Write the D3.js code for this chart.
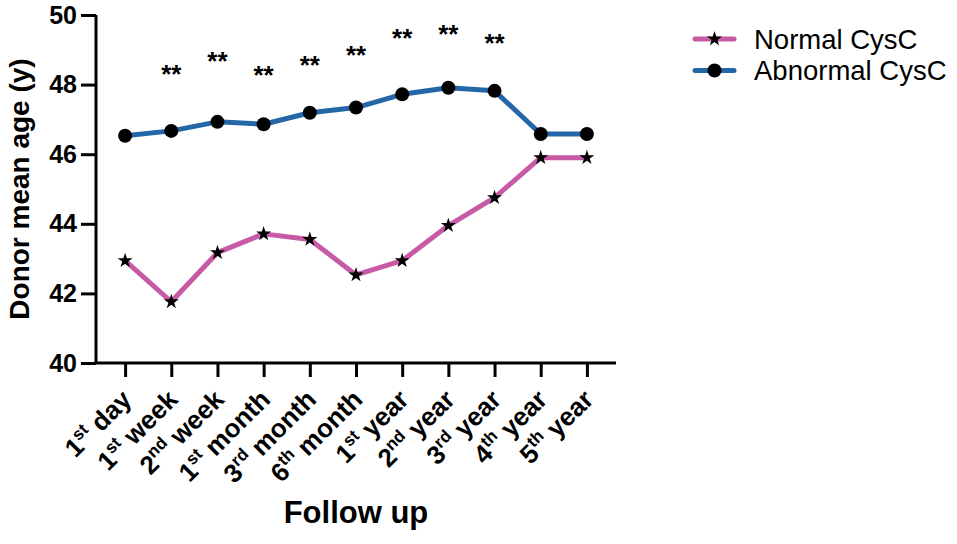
<!DOCTYPE html>
<html>
<head>
<meta charset="utf-8">
<script src="https://cdn.jsdelivr.net/npm/d3@7"></script>
<style>
  html, body { margin: 0; padding: 0; background: #fff; }
  svg { display: block; font-family: "Liberation Sans", Arial, sans-serif; }
</style>
</head>
<body>
<svg id="chart" width="957" height="544"></svg>
<script>
// follow-up points: number, superscript suffix, word
const tickNums = ["1", "1", "2", "1", "3", "6", "1", "2", "3", "4", "5"];
const tickSups = ["st", "st", "nd", "st", "rd", "th", "st", "nd", "rd", "th", "th"];
const tickWords = ["day", "week", "week", "month", "month", "month", "year", "year", "year", "year", "year"];
const categories = tickNums.map((n, i) => n + tickSups[i] + " " + tickWords[i]);

const normalCysC = [42.94, 41.76, 43.17, 43.71, 43.55, 42.53, 42.94, 43.95, 44.75, 45.90, 45.90];
const abnormalCysC = [46.53, 46.67, 46.93, 46.86, 47.19, 47.34, 47.72, 47.91, 47.82, 46.58, 46.58];

// "**" marks: category index and height (in y units) of the mark
const sigIdx = [1, 2, 3, 4, 5, 6, 7, 8];
const sigAt = [48.46, 48.84, 48.44, 48.72, 49.03, 49.50, 49.63, 49.37];

const yTicks = [40, 42, 44, 46, 48, 50];

const pink = "#c65aa6", blue = "#2467a8";

const svg = d3.select("#chart");
const plotLeft = 96, plotRight = 616, plotTop = 15, plotBottom = 363;

let x = d3.scalePoint().domain(categories).range([plotLeft, plotRight]).padding(0.63);
let y = d3.scaleLinear().domain([40, 50]).range([plotBottom, plotTop]);

// y axis
let yAxis = svg.append("g")
    .attr("transform", "translate(" + plotLeft + ",0)")
    .call(d3.axisLeft(y).tickValues(yTicks).tickSize(15).tickPadding(4).tickSizeOuter(0));
yAxis.select(".domain").attr("stroke-width", 3).attr("d", "M0," + plotBottom + "V" + plotTop);
yAxis.selectAll(".tick line").attr("stroke-width", 3);
yAxis.selectAll(".tick text")
    .attr("font-size", 25).attr("font-weight", "bold").attr("fill", "#000")
    .attr("font-family", "Liberation Sans, Arial, sans-serif");

// x axis
let xAxis = svg.append("g")
    .attr("transform", "translate(0," + plotBottom + ")")
    .call(d3.axisBottom(x).tickSize(14).tickSizeOuter(0).tickFormat(""));
xAxis.select(".domain").attr("stroke-width", 3).attr("d", "M" + (plotLeft - 1.5) + ",0H" + plotRight);
xAxis.selectAll(".tick line").attr("stroke-width", 3);
xAxis.selectAll(".tick text").remove();

// rotated tick labels with superscripts
let labels = svg.append("g").selectAll("text")
    .data(categories)
    .join("text")
    .attr("transform", d => "translate(" + (x(d) + 8) + "," + (plotBottom + 38) + ") rotate(-45)")
    .attr("text-anchor", "end")
    .attr("font-size", 26)
    .attr("font-weight", "bold");
labels.append("tspan").text((d, i) => tickNums[i]);
labels.append("tspan").attr("font-size", 17).attr("dy", -10).text((d, i) => tickSups[i]);
labels.append("tspan").attr("dy", 10).text((d, i) => " " + tickWords[i]);

// axis titles
svg.append("text")
    .attr("x", (plotLeft + plotRight) / 2).attr("y", 523)
    .attr("text-anchor", "middle")
    .attr("font-size", 31).attr("font-weight", "bold")
    .text("Follow up");

svg.append("text")
    .attr("transform", "translate(29," + ((plotTop + plotBottom) / 2) + ") rotate(-90)")
    .attr("text-anchor", "middle")
    .attr("font-size", 28).attr("font-weight", "bold")
    .text("Donor mean age (y)");

// lines
let line = d3.line().x((d, i) => x(categories[i])).y(d => y(d));

svg.append("path").datum(normalCysC)
    .attr("d", line).attr("fill", "none")
    .attr("stroke", pink).attr("stroke-width", 5).attr("stroke-linejoin", "round");
svg.append("path").datum(abnormalCysC)
    .attr("d", line).attr("fill", "none")
    .attr("stroke", blue).attr("stroke-width", 5).attr("stroke-linejoin", "round");

let star = d3.symbol().type(d3.symbolStar).size(70);

svg.append("g").selectAll("path")
    .data(normalCysC)
    .join("path")
    .attr("d", star)
    .attr("transform", (d, i) => "translate(" + x(categories[i]) + "," + y(d) + ")")
    .attr("fill", "#000");

svg.append("g").selectAll("circle")
    .data(abnormalCysC)
    .join("circle")
    .attr("cx", (d, i) => x(categories[i]))
    .attr("cy", d => y(d))
    .attr("r", 7)
    .attr("fill", "#000");

// significance marks
const sigSize = 26;
svg.append("g").selectAll("text")
    .data(sigAt)
    .join("text")
    .attr("x", (d, i) => x(categories[sigIdx[i]]))
    .attr("y", d => y(d) + sigSize * 0.57)
    .attr("text-anchor", "middle")
    .attr("font-size", sigSize)
    .attr("font-weight", "bold")
    .text("**");

// legend
let legend = svg.append("g");
let legendItems = [
    {name: "Normal CysC", color: pink, ly: 39, mark: "star"},
    {name: "Abnormal CysC", color: blue, ly: 70.5, mark: "circle"}
];
legendItems.forEach(item => {
    legend.append("line")
        .attr("x1", 695).attr("x2", 734)
        .attr("y1", item.ly).attr("y2", item.ly)
        .attr("stroke", item.color).attr("stroke-width", 5).attr("stroke-linecap", "round");
    if (item.mark === "star") {
        legend.append("path").attr("d", star)
            .attr("transform", "translate(714.5," + item.ly + ")").attr("fill", "#000");
    } else {
        legend.append("circle").attr("cx", 714.5).attr("cy", item.ly).attr("r", 7).attr("fill", "#000");
    }
    legend.append("text")
        .attr("x", 754).attr("y", item.ly + 9.5)
        .attr("font-size", 27.5)
        .text(item.name);
});
</script>
</body>
</html>
